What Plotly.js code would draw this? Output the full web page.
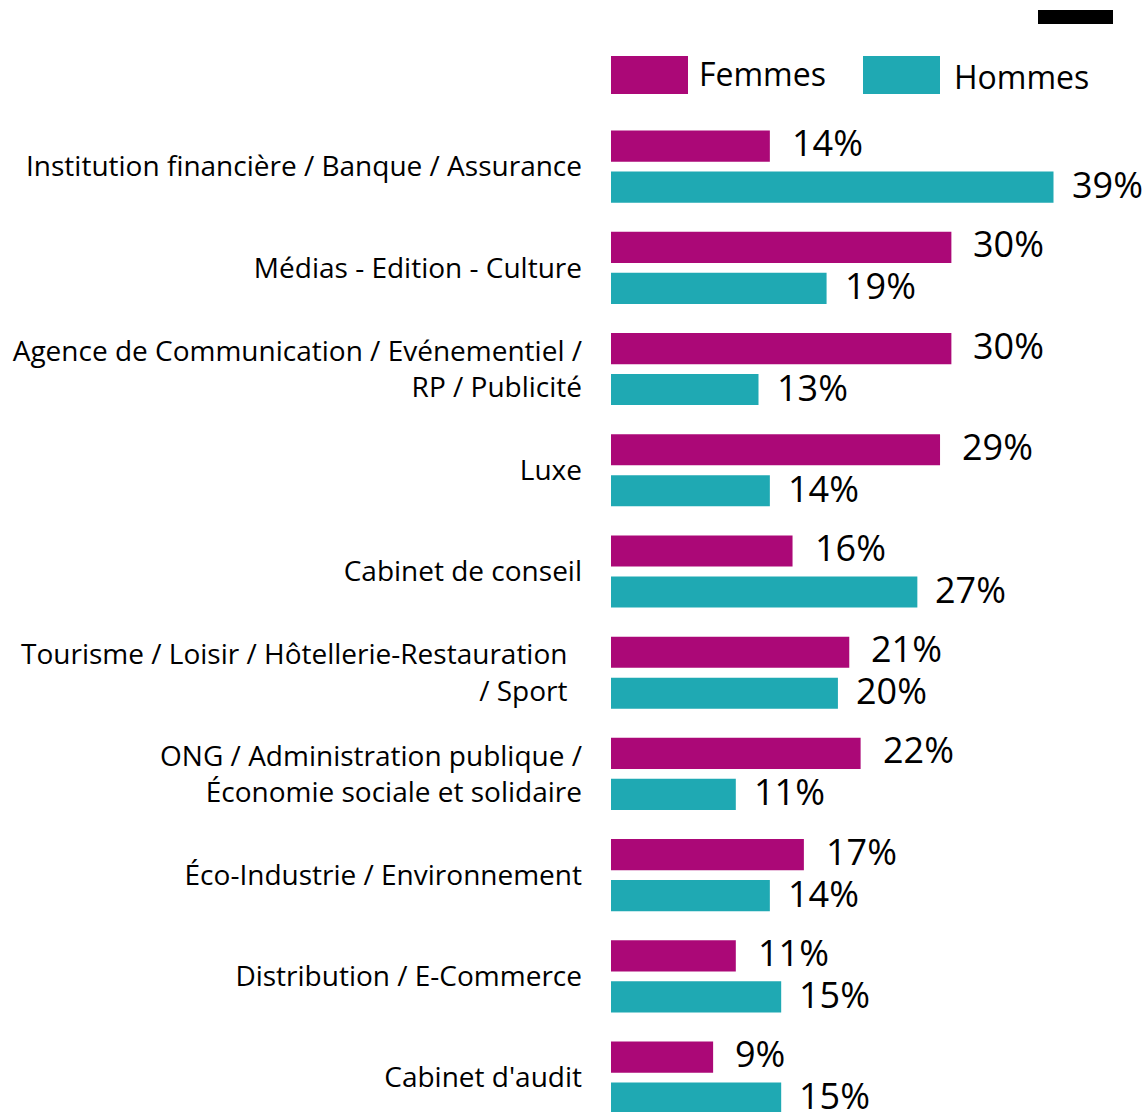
<!DOCTYPE html>
<html>
<head>
<meta charset="utf-8">
<script src="https://cdn.plot.ly/plotly-3.0.1.min.js"></script>
<style>
  html, body { margin: 0; padding: 0; background: #fff; }
  #chart { width: 1146px; height: 1112px; }
</style>
</head>
<body>
<div id="chart"></div>
<script>
var categories = [
  "Institution financière / Banque / Assurance",
  "Médias - Edition - Culture",
  "Agence de Communication / Evénementiel /<br>RP / Publicité",
  "Luxe",
  "Cabinet de conseil",
  "Tourisme / Loisir / Hôtellerie-Restauration\u00a0\u00a0<br>/ Sport\u00a0\u00a0",
  "ONG / Administration publique /<br>Économie sociale et solidaire",
  "Éco-Industrie / Environnement",
  "Distribution / E-Commerce",
  "Cabinet d'audit"
];
var femmes = [14, 30, 30, 29, 16, 21, 22, 17, 11, 9];
var hommes = [39, 19, 13, 14, 27, 20, 11, 14, 15, 15];

var colF = '#ab0877';
var colH = '#1fa9b3';
var font = '"Open Sans", "DejaVu Sans", sans-serif';

var W = 1146, H = 1112;
var mL = 611, mR = 4, mT = 116, mB = 0;

// pixel -> paper helpers for the hand-drawn legend
function px(x) { return (x - mL) / (W - mL - mR); }
function py(y) { return (H - mB - y) / (H - mT - mB); }

var traces = [
  { type: 'bar', orientation: 'h', name: 'Femmes', y: categories, x: femmes,
    marker: { color: colF }, hoverinfo: 'x+y' },
  { type: 'bar', orientation: 'h', name: 'Hommes', y: categories, x: hommes,
    marker: { color: colH }, hoverinfo: 'x+y' }
];

var annotations = [];
categories.forEach(function (c, i) {
  annotations.push({ x: femmes[i], y: c, xref: 'x', yref: 'y', text: femmes[i] + '%',
    showarrow: false, xanchor: 'left', xshift: 20, yshift: 24,
    font: { family: font, size: 36, color: '#000' } });
  annotations.push({ x: hommes[i], y: c, xref: 'x', yref: 'y', text: hommes[i] + '%',
    showarrow: false, xanchor: 'left', xshift: 16, yshift: -18,
    font: { family: font, size: 36, color: '#000' } });
});

// legend
annotations.push({ x: px(697), y: py(74), xref: 'paper', yref: 'paper', text: 'Femmes',
  showarrow: false, xanchor: 'left', yanchor: 'middle',
  font: { family: font, size: 32, color: '#000' } });
annotations.push({ x: px(952), y: py(77), xref: 'paper', yref: 'paper', text: 'Hommes',
  showarrow: false, xanchor: 'left', yanchor: 'middle',
  font: { family: font, size: 32, color: '#000' } });

var shapes = [
  { type: 'rect', xref: 'paper', yref: 'paper', x0: px(611), x1: px(688), y0: py(94), y1: py(56),
    fillcolor: colF, line: { width: 0 } },
  { type: 'rect', xref: 'paper', yref: 'paper', x0: px(863), x1: px(940), y0: py(94), y1: py(56),
    fillcolor: colH, line: { width: 0 } },
  { type: 'rect', xref: 'paper', yref: 'paper', x0: px(1038), x1: px(1113), y0: py(24), y1: py(10),
    fillcolor: '#000', line: { width: 0 } }
];

var layout = {
  width: W, height: H,
  margin: { l: mL, r: mR, t: mT, b: mB },
  paper_bgcolor: '#fff', plot_bgcolor: '#fff',
  barmode: 'group', bargap: 0.19, bargroupgap: 0.24,
  showlegend: false,
  xaxis: { range: [0, 46.8], visible: false, fixedrange: true },
  yaxis: { type: 'category', range: [9.34, -0.5], showgrid: false, zeroline: false,
    showline: false, ticks: '', ticklabelstandoff: 28,
    tickfont: { family: font, size: 28, color: '#000' }, fixedrange: true },
  annotations: annotations,
  shapes: shapes,
  font: { family: font }
};

Plotly.newPlot('chart', traces, layout, { displayModeBar: false, staticPlot: true });
</script>
</body>
</html>
